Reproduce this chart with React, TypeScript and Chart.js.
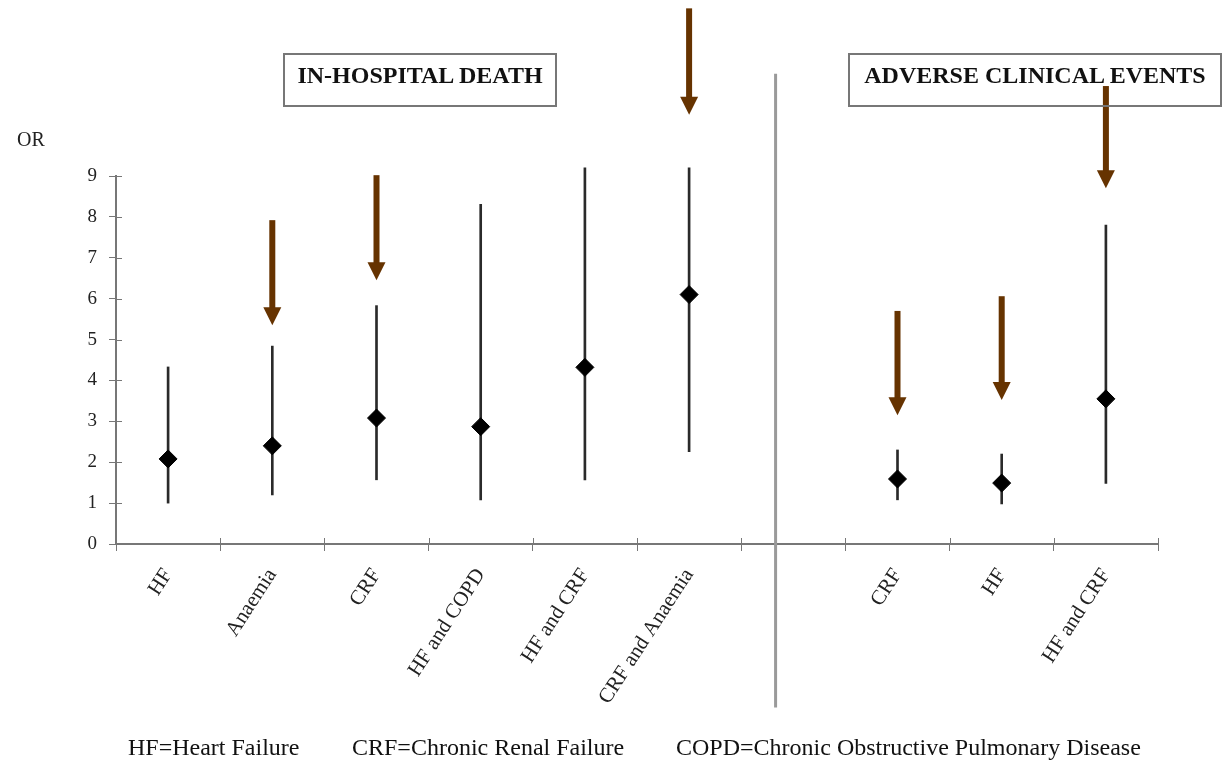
import React, { useEffect, useRef } from "react";
import { Chart, registerables } from "chart.js";

Chart.register(...registerables);

const categories = ["HF", "Anaemia", "CRF", "HF and COPD", "HF and CRF", "CRF and Anaemia", "", "CRF", "HF", "HF and CRF"];
const oddsRatio = [2.08, 2.4, 3.08, 2.87, 4.32, 6.1, null, 1.59, 1.49, 3.55];
const ciLow = [1.0, 1.2, 1.57, 1.08, 1.57, 2.26, null, 1.08, 0.98, 1.48];
const ciHigh = [4.33, 4.84, 5.83, 8.31, 9.2, 9.2, null, 2.3, 2.2, 7.8];
const arrowTop = [null, 7.92, 9.02, null, null, 13.1, null, 5.7, 6.06, 11.2];
const arrowTip = [null, 5.35, 6.45, null, null, 10.5, null, 3.15, 3.52, 8.7];
const yTicks = [0, 1, 2, 3, 4, 5, 6, 7, 8, 9];
const dividerIndex = 5.83;
const dividerTop = 11.5;
const dividerBottom = -4.0;
const panelTitles = ["IN-HOSPITAL DEATH", "ADVERSE CLINICAL EVENTS"];
const footnotes = ["HF=Heart Failure", "CRF=Chronic Renal Failure", "COPD=Chronic Obstructive Pulmonary Disease"];

const SERIF = "'Liberation Serif', 'Times New Roman', serif";

const annotationPlugin = {
  id: "annotations",
  afterDatasetsDraw(chart: any) {
    const { ctx } = chart;
    const x = chart.scales.x;
    const y = chart.scales.y;
    ctx.save();
    // inner halves of tick marks (ticks cross the axes)
    ctx.strokeStyle = "#777";
    ctx.lineWidth = 1;
    yTicks.forEach((v) => {
      const py = Math.round(y.getPixelForValue(v)) + 0.5;
      ctx.beginPath();
      ctx.moveTo(x.left, py);
      ctx.lineTo(x.left + 6, py);
      ctx.stroke();
    });
    for (let i = 0; i <= categories.length; i++) {
      const px = Math.round(x.getPixelForValue(i - 0.5)) + 0.5;
      ctx.beginPath();
      ctx.moveTo(px, y.bottom);
      ctx.lineTo(px, y.bottom - 6);
      ctx.stroke();
    }
    // divider
    const dx = x.getPixelForValue(dividerIndex);
    ctx.strokeStyle = "#9a9a9a";
    ctx.lineWidth = 3;
    ctx.beginPath();
    ctx.moveTo(dx, y.getPixelForValue(dividerTop));
    ctx.lineTo(dx, y.getPixelForValue(dividerBottom));
    ctx.stroke();
    // arrows
    ctx.fillStyle = "#663300";
    for (let i = 0; i < categories.length; i++) {
      const t = arrowTop[i];
      const b = arrowTip[i];
      if (t == null || b == null) continue;
      const px = x.getPixelForValue(i);
      const top = y.getPixelForValue(t);
      const tip = y.getPixelForValue(b);
      const headH = 18;
      const headW = 9;
      ctx.fillRect(px - 3, top, 6, tip - headH - top + 1);
      ctx.beginPath();
      ctx.moveTo(px - headW, tip - headH);
      ctx.lineTo(px + headW, tip - headH);
      ctx.lineTo(px, tip);
      ctx.closePath();
      ctx.fill();
    }
    ctx.restore();
  },
};

export default function App() {
  const ref = useRef<HTMLCanvasElement | null>(null);

  useEffect(() => {
    document.body.style.margin = "0";
    if (!ref.current) return;
    const chart = new Chart(ref.current, {
      type: "bar",
      data: {
        labels: categories,
        datasets: [
          {
            type: "bar",
            data: categories.map((_, i) => (ciLow[i] == null ? null : [ciLow[i], ciHigh[i]])) as any,
            backgroundColor: "#2a2a2a",
            barThickness: 2,
            clip: false as any,
            order: 2,
          },
          {
            type: "line",
            data: oddsRatio as any,
            showLine: false,
            pointStyle: "rectRot",
            pointRadius: 9,
            pointBackgroundColor: "#000",
            pointBorderColor: "#000",
            pointBorderWidth: 1,
            clip: false as any,
            order: 1,
          } as any,
        ],
      },
      options: {
        animation: false,
        responsive: false,
        layout: { padding: { top: 176, right: 64, left: 0, bottom: 0 } },
        plugins: { legend: { display: false }, tooltip: { enabled: false } },
        scales: {
          x: {
            type: "category",
            offset: true,
            grid: { display: true, drawOnChartArea: false, offset: true, tickLength: 7, color: "#777" },
            border: { color: "#777", width: 2 },
            ticks: {
              minRotation: 57,
              maxRotation: 57,
              autoSkip: false,
              padding: 13,
              color: "#222",
              font: { family: SERIF, size: 21 },
            },
            afterFit(scale: any) {
              scale.height = 220;
            },
          },
          y: {
            type: "linear",
            min: 0,
            max: 9,
            afterBuildTicks(scale: any) {
              scale.ticks = yTicks.map((v) => ({ value: v }));
            },
            grid: { display: true, drawOnChartArea: false, tickLength: 7, color: "#777" },
            border: { color: "#777", width: 2 },
            ticks: {
              padding: 12,
              color: "#222",
              font: { family: SERIF, size: 19 },
            },
            afterFit(scale: any) {
              scale.width = 116;
            },
          },
        },
      },
      plugins: [annotationPlugin],
    });
    return () => chart.destroy();
  }, []);

  const boxStyle: React.CSSProperties = {
    position: "absolute",
    top: 53,
    height: 54,
    border: "2px solid #777",
    fontFamily: SERIF,
    fontWeight: "bold",
    fontSize: 24,
    color: "#111",
    textAlign: "center",
    lineHeight: "40px",
    boxSizing: "border-box",
    whiteSpace: "nowrap",
  };
  const footStyle: React.CSSProperties = {
    position: "absolute",
    top: 734,
    fontFamily: SERIF,
    fontSize: 24,
    color: "#111",
    whiteSpace: "nowrap",
  };

  return (
    <div style={{ position: "relative", width: 1222, height: 764, background: "#fff", overflow: "hidden" }}>
      <canvas ref={ref} width={1222} height={764} style={{ position: "absolute", left: 0, top: 0 }} />
      <div style={{ ...boxStyle, left: 283, width: 274 }}>{panelTitles[0]}</div>
      <div style={{ ...boxStyle, left: 848, width: 374 }}>{panelTitles[1]}</div>
      <div style={{ position: "absolute", left: 17, top: 128, fontFamily: SERIF, fontSize: 20, color: "#222" }}>OR</div>
      <div style={{ ...footStyle, left: 128 }}>{footnotes[0]}</div>
      <div style={{ ...footStyle, left: 352 }}>{footnotes[1]}</div>
      <div style={{ ...footStyle, left: 676 }}>{footnotes[2]}</div>
    </div>
  );
}
